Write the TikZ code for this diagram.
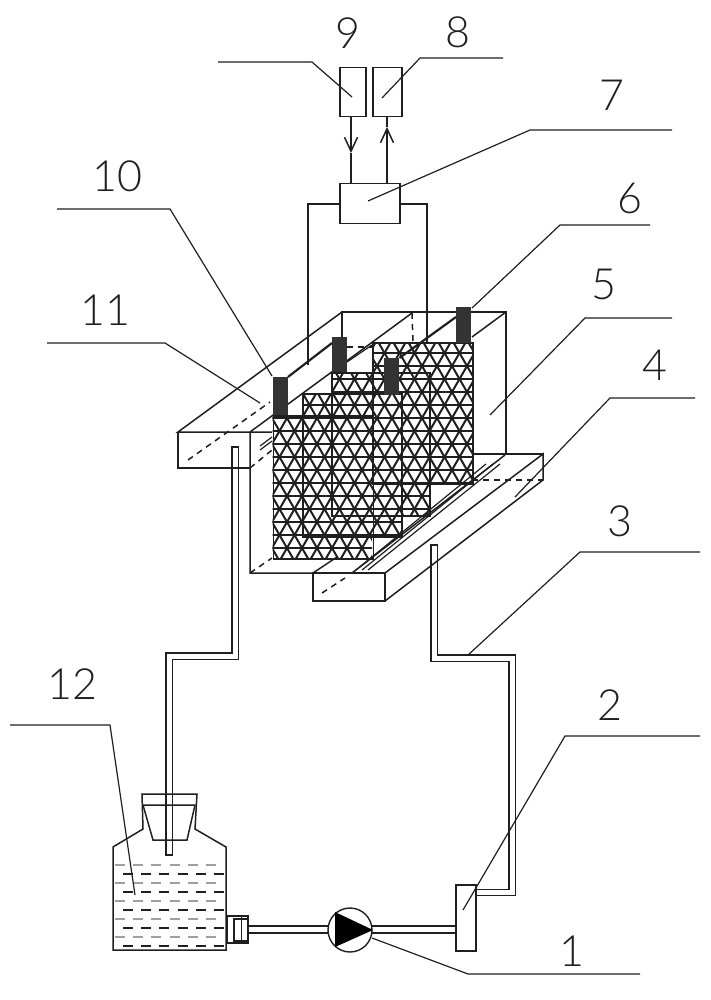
\documentclass[tikz,border=0pt]{standalone}
\usepackage{fontspec}
\newfontfamily\numfont[UprightFont=* Light]{Lato}
\usetikzlibrary{arrows.meta}
\definecolor{inkdark}{gray}{0.12}
\tikzset{
  numlabel/.style={inner sep=0pt,font=\numfont\fontsize{43}{43}\selectfont,text=inkdark},
  leader/.style={line width=1.2pt,draw=inkdark},
  edge/.style={line width=1.5pt,draw=inkdark},
  hidden/.style={line width=1.5pt,draw=inkdark,dash pattern=on 6pt off 5pt},
  wire/.style={line width=2.2pt,draw=inkdark},
  pipe/.style={double=white,double distance=5pt,line width=1.3pt,draw=inkdark},
  boxpart/.style={draw=inkdark,line width=1.5pt,inner sep=0pt,fill=white,anchor=north west},
  electrode/.style={fill=black!80,inner sep=0pt,anchor=north west,minimum width=15pt},
  meshpanel/.style={draw=inkdark,line width=1.8pt,inner sep=0pt,anchor=north west},
  meshline/.style={line width=2pt,draw=inkdark},
  waterdash/.style={line width=1.6pt,dash pattern=on 10pt off 8.2pt}
}
\begin{document}
\begin{tikzpicture}[x=1pt,y=-1pt]
  \useasboundingbox (0,0) rectangle (711,1000);

  \path
    (235,447) coordinate (pipeAa) (235,656) coordinate (pipeAb)
    (169,656) coordinate (pipeAc) (169,855) coordinate (pipeAd)
    (434,545) coordinate (pipeBa) (434,658) coordinate (pipeBb)
    (512,658) coordinate (pipeBc) (512,892.5) coordinate (pipeBd)
    (475,892.5) coordinate (pipeBe);
  \draw[pipe] (pipeAa) -- (pipeAb) -- (pipeAc) -- (pipeAd);
  \draw[pipe] (pipeBa) -- (pipeBb) -- (pipeBc) -- (pipeBd) -- (pipeBe);
  \draw[edge,line width=1.3pt] (231,447) -- (239,447) (165,855) -- (173,855) (430,545) -- (438,545);

  % tank and the two trays
  \path
    (178,432) coordinate (trayLa) (342,312) coordinate (trayLb)
    (250,432) coordinate (trayLc) (412,313) coordinate (trayLd)
    (272,432) coordinate (trayLe) (178,468) coordinate (trayLf)
    (250,468) coordinate (trayLg) (188,460) coordinate (trayLh)
    (270,402) coordinate (trayLi) (272,450) coordinate (trayLj)
    (347,362) coordinate (trayLk) (372,345) coordinate (trayLm)
    (506,312) coordinate (tankA) (506,453) coordinate (tankB)
    (472,337) coordinate (tankC) (342,343) coordinate (tankD)
    (250,573) coordinate (tankE) (352,573) coordinate (tankF)
    (505,455) coordinate (tankG) (272,558) coordinate (tankH)
    (413,343) coordinate (tankI) (347,347) coordinate (tankJ)
    (373,347) coordinate (tankK)
    (313,573) coordinate (trayRa) (385,573) coordinate (trayRb)
    (385,601) coordinate (trayRc) (313,601) coordinate (trayRd)
    (543,454) coordinate (trayRe) (543,480) coordinate (trayRf)
    (472,480) coordinate (trayRg) (472,454) coordinate (trayRh)
    (337,557) coordinate (trayRi) (322,593) coordinate (trayRj)
    (345,578) coordinate (trayRk);
  \draw[edge] (trayLb) -- (trayLa) -- (trayLe);
  \draw[edge] (trayLa) -- (trayLf) -- (trayLg);
  \draw[edge] (trayLc) -- (trayLd);
  \draw[leader] (trayLk) -- (trayLm);
  \draw[edge] (tankD) -- (trayLb) -- (tankA) -- (tankB);
  \draw[edge] (tankA) -- (tankC);
  \draw[edge] (trayLc) -- (tankE) -- (tankF) -- (tankG);
  \draw[hidden] (trayLh) -- (trayLi);
  \draw[hidden] (trayLg) -- (trayLj);
  \draw[hidden] (tankE) -- (tankH);
  \draw[hidden] (trayLd) -- (tankI);
  \draw[hidden] (tankJ) -- (tankK);
  \draw[edge] (trayRa) -- (trayRb) -- (trayRc) -- (trayRd) -- cycle;
  \draw[edge] (trayRb) -- (trayRe) -- (trayRf) -- (trayRc);
  \draw[edge] (trayRh) -- (trayRe);
  \draw[edge] (trayRa) -- (trayRi);
  \draw[hidden] (trayRg) -- (trayRf);
  \draw[hidden] (trayRj) -- (trayRk);
  \path
    (356,570) coordinate (slotAa) (486,464) coordinate (slotAb)
    (362,570) coordinate (slotBa) (493,464) coordinate (slotBb)
    (368,570) coordinate (slotEa) (500,464) coordinate (slotEb)
    (260,446) coordinate (slotCa) (272,437) coordinate (slotCb)
    (260,450) coordinate (slotDa) (272,441) coordinate (slotDb);
  \draw[leader] (slotAa) -- (slotAb);
  \draw[leader] (slotBa) -- (slotBb);
  \draw[leader] (slotEa) -- (slotEb);
  \draw[leader] (slotCa) -- (slotCb);
  \draw[leader] (slotDa) -- (slotDb);

  % one triangular lattice seen through four staggered plates
  \begin{scope}
    \clip (272.5,415) -- (302,415) -- (302,393) -- (331,393) -- (331,372) -- (372,372)
      -- (372,342) -- (472,342) -- (472,483) -- (429,483) -- (429,515) -- (401,515)
      -- (401,536) -- (372,536) -- (372,558) -- (272.5,558) -- cycle;
    \foreach \k in {0,...,17}
      \draw[meshline] (260,340+\k*13) -- (480,340+\k*13);
    \foreach \k in {-10,...,30} {
      \draw[meshline] (272+\k*15,340) -- (399.5+\k*15,561);
      \draw[meshline] (272+\k*15,340) -- (144.5+\k*15,561);
    }
  \end{scope}
  \node[meshpanel,minimum width=100pt,minimum height=141pt] (plateD) at (372,342) {};
  \node[meshpanel,minimum width=98pt,minimum height=143pt] (plateC) at (331,372) {};
  \node[meshpanel,minimum width=99pt,minimum height=143pt] (plateB) at (302,393) {};
  \node[meshpanel,minimum width=100pt,minimum height=143pt] (plateA) at (272.5,415) {};

  \node[electrode,minimum height=38pt] (elecA) at (272.5,377) {};
  \node[electrode,minimum height=35pt] (elecB) at (332,337) {};
  \node[electrode,minimum height=37pt] (elecC) at (384,358) {};
  \node[electrode,minimum height=36pt] (elecD) at (456,307) {};
  \draw[wire] (elecA.north east) -- (elecB.west |- 0,343);
  \draw[wire] (elecC.north east) -- (elecD.west |- 0,317);

  % control boxes
  \node[boxpart,minimum width=60pt,minimum height=40pt] (ctrl) at (339,183) {};
  \node[boxpart,minimum width=26pt,minimum height=49pt] (boxNine) at (339,67) {};
  \node[boxpart,minimum width=29pt,minimum height=49pt] (boxEight) at (372,67) {};
  \path
    (351,116) coordinate (sigAa) (351,153) coordinate (sigAb) (351,183) coordinate (sigAc)
    (387,183) coordinate (sigBa) (387,127) coordinate (sigBb) (387,116) coordinate (sigBc)
    (308,204) coordinate (wireAa) (308,365) coordinate (wireAb)
    (427,204) coordinate (wireBa) (427,342) coordinate (wireBb);
  \draw[edge,-{Straight Barb[length=14pt,width=13pt]}] (sigAa) -- (sigAb);
  \draw[edge] (sigAb) -- (sigAc);
  \draw[edge,-{Straight Barb[length=14pt,width=13pt]}] (sigBa) -- (sigBb);
  \draw[edge] (sigBb) -- (sigBc);
  \draw[wire] (ctrl.west |- wireAa) -- (wireAa) -- (wireAb);
  \draw[wire] (ctrl.east |- wireBa) -- (wireBa) -- (wireBb);

  % bottle, pump and flow box
  \path
    (113,950) coordinate (botA) (113,847) coordinate (botB) (143,829) coordinate (botC)
    (142,794) coordinate (botD) (197,794) coordinate (botE) (195,829) coordinate (botF)
    (226,847) coordinate (botG) (226,950) coordinate (botH)
    (143,805) coordinate (stopA) (195,805) coordinate (stopB)
    (187,840) coordinate (stopC) (153,840) coordinate (stopD);
  \draw[edge] (botA) -- (botB) -- (botC) -- (botD) -- (botE) -- (botF) -- (botG) -- (botH) -- cycle;
  \draw[edge] (stopA) -- (stopB) -- (stopC) -- (stopD) -- cycle;
  \foreach \y in {865,883,901,919,937}
    \draw[waterdash,gray!75] (115,\y) -- (224,\y);
  \foreach \y in {874,892,910,928,946}
    \draw[waterdash,inkdark,dash phase=-8pt] (115,\y) -- (225,\y);

  \path
    (247,926) coordinate (lineAa) (328,926) coordinate (lineAb)
    (247,933) coordinate (lineBa) (328,933) coordinate (lineBb)
    (372,926) coordinate (lineCa) (455,926) coordinate (lineCb)
    (372,933) coordinate (lineDa) (455,933) coordinate (lineDb);
  \node[boxpart,fill=none,minimum width=21pt,minimum height=27pt] (fitA) at (226,915) {};
  \node[boxpart,fill=none,minimum width=14pt,minimum height=22pt] (fitB) at (233,918) {};
  \draw[leader] (fitA.east) ++(-7,-13) -- ++(0,27);
  \draw[edge] (lineAa) -- (lineAb);
  \draw[edge] (lineBa) -- (lineBb);
  \draw[edge] (lineCa) -- (lineCb);
  \draw[edge] (lineDa) -- (lineDb);
  \node[draw=inkdark,line width=1.4pt,circle,minimum size=44pt,inner sep=0pt] (pump) at (350,930) {};
  \path (335,912) coordinate (triA) (335,947) coordinate (triB) (373,930) coordinate (triC);
  \fill[black] (triA) -- (triB) -- (triC) -- cycle;
  \node[boxpart,fill=none,minimum width=20pt,minimum height=66pt] (flowBox) at (455,884) {};

  % numbered leaders
  \path
    (372,938) coordinate (legAa) (468,974) coordinate (legAb) (640,974) coordinate (legAc)
    (463,910) coordinate (legBa) (565,736) coordinate (legBb) (700,736) coordinate (legBc)
    (468,655) coordinate (legCa) (580,552) coordinate (legCb) (700,552) coordinate (legCc)
    (515,497) coordinate (legDa) (610,398) coordinate (legDb) (695,398) coordinate (legDc)
    (490,415) coordinate (legEa) (585,318) coordinate (legEb) (672,318) coordinate (legEc)
    (472,308) coordinate (legFa) (560,225) coordinate (legFb) (650,225) coordinate (legFc)
    (368,201) coordinate (legGa) (530,130) coordinate (legGb) (672,130) coordinate (legGc)
    (382,98) coordinate (legHa) (420,58) coordinate (legHb) (503,58) coordinate (legHc)
    (352,97) coordinate (legIa) (312,62) coordinate (legIb) (218,62) coordinate (legIc)
    (272,376) coordinate (legJa) (170,209) coordinate (legJb) (57,209) coordinate (legJc)
    (260,403) coordinate (legKa) (165,343) coordinate (legKb) (47,343) coordinate (legKc)
    (135,895) coordinate (legLa) (110,725) coordinate (legLb) (10,725) coordinate (legLc);
  \foreach \n in {A,...,L}
    \draw[leader] (leg\n a) -- (leg\n b) -- (leg\n c);

  \node[numlabel] (numOne) at (572,951) {1};
  \node[numlabel] (numTwo) at (610,705) {2};
  \node[numlabel] (numThree) at (620,521) {3};
  \node[numlabel] (numFour) at (655,365) {4};
  \node[numlabel] (numFive) at (604,284) {5};
  \node[numlabel] (numSix) at (630,198) {6};
  \node[numlabel] (numSeven) at (612,95) {7};
  \node[numlabel] (numEight) at (458,32) {8};
  \node[numlabel] (numNine) at (348,33) {9};
  \node[numlabel] (numTen) at (117,176) {10};
  \node[numlabel] (numEleven) at (105,310) {11};
  \node[numlabel] (numTwelve) at (72,684) {12};
\end{tikzpicture}
\end{document}
